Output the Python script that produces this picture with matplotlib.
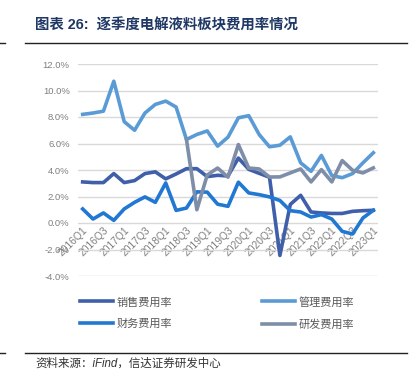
import matplotlib
matplotlib.use("Agg")
import matplotlib.pyplot as plt
from matplotlib.lines import Line2D

plt.rcParams['font.family'] = ['Liberation Sans', 'Noto Sans CJK SC', 'DejaVu Sans']
plt.rcParams['axes.unicode_minus'] = False

# Quarters 2016Q1 .. 2023Q1
quarters = []
for y in range(2016, 2024):
    for q in range(1, 5):
        quarters.append(f"{y}Q{q}")
quarters = quarters[:29]

# Expense ratios (%)
sales = [3.1, 3.05, 3.05, 3.73, 3.05, 3.2, 3.73, 3.86, 3.33, 3.7, 4.1, 4.1,
         3.5, 3.6, 3.55, 4.9, 4.05, 3.75, 3.45, -2.45, 1.4, 2.09, 0.83, 0.76,
         0.72, 0.72, 0.88, 0.93, 0.96]
admin = [8.2, 8.3, 8.44, 10.7, 7.65, 7.0, 8.3, 8.95, 9.2, 8.75, 6.3, 6.68,
         6.95, 5.8, 6.48, 7.94, 8.1, 6.68, 5.75, 5.87, 6.5, 4.54, 3.9, 5.1,
         3.58, 3.42, 3.73, 4.54, 5.3]
finance = [1.06, 0.3, 0.76, 0.2, 1.06, 1.56, 1.97, 1.56, 3.02, 0.95, 1.13, 2.35,
           2.33, 1.42, 1.26, 3.08, 2.27, 2.14, 1.97, 1.7, 0.93, 0.83, 0.45, 0.63,
           0.3, -0.63, -0.83, 0.38, 0.96]
rnd_idx = list(range(10, 29))
rnd = [6.3, 1.0, 3.62, 4.15, 3.46, 5.92, 4.15, 4.08, 3.47, 3.48, 3.78, 4.08,
       3.1, 4.03, 3.1, 4.71, 3.98, 3.78, 4.16]

labels = ["销售费用率", "管理费用率", "财务费用率", "研发费用率"]
colors = ["#3f5faa", "#5b9bd5", "#2178d3", "#7f8ea8"]

fig = plt.figure(figsize=(4.17, 3.87), dpi=100)
ax = fig.add_axes([78/417, 1-276/387, 300/417, 212/387])

x = list(range(len(quarters)))
l1, = ax.plot(x, sales, color=colors[0], lw=2.6, label=labels[0])
l2, = ax.plot(x, admin, color=colors[1], lw=2.6, label=labels[1])
l3, = ax.plot(x, finance, color=colors[2], lw=2.6, label=labels[2])
l4, = ax.plot(rnd_idx, rnd, color=colors[3], lw=2.6, label=labels[3])

ax.set_ylim(-4, 12)
ax.set_xlim(-0.45, 28.45)
ax.set_yticks(range(-4, 13, 2))
ax.set_yticklabels([f"{v:.1f}%" for v in range(-4, 13, 2)])
ax.yaxis.grid(True, color="#d9d9d9", lw=1)
ax.set_axisbelow(True)
for s in ax.spines.values():
    s.set_visible(False)
ax.spines['bottom'].set_position(('data', 0))
ax.tick_params(axis='y', length=0, labelsize=6.8, labelcolor="#7f7f7f", pad=6)
ax.tick_params(axis='x', length=0, labelsize=7.4, labelcolor="#7f7f7f", pad=1.5)
ax.set_xticks(x[::2])
ax.set_xticklabels(quarters[::2], rotation=45, ha='right', va='top',
                   rotation_mode='anchor')

fig.legend([l1, l3, l2, l4], [labels[0], labels[2], labels[1], labels[3]],
           ncol=2, loc='upper left', bbox_to_anchor=(80/417, 1-296.5/387),
           frameon=False, fontsize=8, handlelength=3.0, handletextpad=0.27,
           columnspacing=8.1, labelspacing=1.05, borderpad=0, borderaxespad=0,
           labelcolor="#595959")

# header / footer
fig.text(35/417, 1-25/387, "图表 26:  逐季度电解液料板块费用率情况", fontsize=10.4,
         fontweight='bold', color="#1f3864", va='center', ha='left')
for yy in (43, 353):
    fig.add_artist(Line2D([25/417, 407/417], [1-yy/387]*2, color="#222222", lw=1))
    fig.add_artist(Line2D([0, 5/417], [1-yy/387]*2, color="#222222", lw=1))
fig.text(35/417, 1-364/387, "资料来源：iFind，信达证券研发中心", fontsize=8.3,
         style='italic', color="#333333", va='center', ha='left')

fig.savefig("out.png", dpi=100)
